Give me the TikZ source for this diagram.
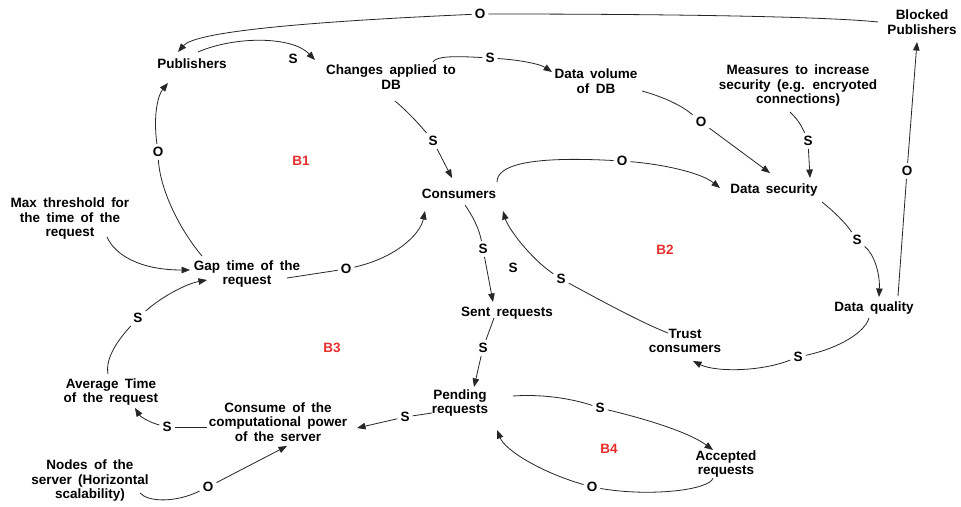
\documentclass[tikz,border=0pt]{standalone}
\usepackage{fontspec}
\setmainfont{Liberation Sans}[WordSpace=1.7]
\usetikzlibrary{arrows.meta}
\definecolor{loopred}{RGB}{232,45,45}
\newcommand{\cldfont}{\fontsize{13.5}{14.5}\selectfont\bfseries}
\tikzset{
  var/.style={font=\cldfont, align=center, inner sep=0pt, text=black},
  pol/.style={font=\cldfont, inner sep=3pt, text=black},
  loopname/.style={font=\cldfont, text=loopred, inner sep=0pt},
  link/.style={draw=black!85, line width=0.8pt},
  arr/.style={link, -{Triangle[length=8.5pt,width=6.5pt]}},
}
\begin{document}
\begin{tikzpicture}[x=1pt,y=-1pt]
\useasboundingbox (0,0) rectangle (961,506);
\fill[white] (0,0) rectangle (961,506);

% variables
\node[var] (bp) at (922,22) {Blocked\\Publishers};
\node[var] (pub) at (192,64) {Publishers};
\node[var] (cad) at (391,77) {Changes applied to\\DB};
\node[var] (dvd) at (596,81) {Data volume\\of DB};
\node[var] (meas) at (798,86) {Measures to increase\\security (e.g. encryoted\\connections)};
\node[var] (cons) at (459,194) {Consumers};
\node[var] (dsec) at (774,190) {Data security};
\node[var] (dq) at (874,308) {Data quality};
\node[var] (trust) at (685,341) {Trust\\consumers};
\node[var] (sent) at (507,313) {Sent requests};
\node[var] (pend) at (460,403) {Pending\\requests};
\node[var] (acc) at (726,464) {Accepted\\requests};
\node[var] (ccp) at (278,422) {Consume of the\\computational power\\of the server};
\node[var] (avg) at (111,392) {Average Time\\of the request};
\node[var] (nodes) at (90,481) {Nodes of the\\server (Horizontal\\scalability)};
\node[var] (gap) at (247,274) {Gap time of the\\request};
\node[var] (mt) at (70,219) {Max threshold for\\the time of the\\request};

% loop names
\node[loopname] (b1) at (301,161) {B1};
\node[loopname] (b2) at (665,250) {B2};
\node[loopname] (b3) at (332,348) {B3};
\node[loopname] (b4) at (609,449) {B4};

% polarity marks
\node[pol] (o1) at (480,14) {O};
\node[pol] (s2) at (293,59) {S};
\node[pol] (s3) at (490,58) {S};
\node[pol] (s4) at (433,141) {S};
\node[pol] (o5) at (701,122) {O};
\node[pol] (s6) at (808,141) {S};
\node[pol] (o7) at (622,161) {O};
\node[pol] (s8) at (857,240) {S};
\node[pol] (o9) at (907,171) {O};
\node[pol] (s10) at (798,357) {S};
\node[pol] (s11) at (561,279) {S};
\node[pol] (sx) at (513,268) {S};
\node[pol] (s12) at (483,249) {S};
\node[pol] (s13) at (483,348) {S};
\node[pol] (s14) at (405,417) {S};
\node[pol] (s15) at (167,427) {S};
\node[pol] (s16) at (138,318) {S};
\node[pol] (o18) at (158,152) {O};
\node[pol] (o19) at (346,269) {O};
\node[pol] (o20) at (208,487) {O};
\node[pol] (s21) at (600,408) {S};
\node[pol] (o22) at (592,487) {O};

% Blocked Publishers -> Publishers
\draw[link] ([shift={(-44,0)}]bp.center) .. controls (820,16) and (650,14) .. (o1);
\draw[arr] (o1) .. controls (300,22) and (195,32) .. ([shift={(-14,-12)}]pub.center);
% Publishers -> Changes applied to DB
\draw[arr] ([shift={(6,-12)}]pub.center) .. controls (235,36) and (292,36) .. ([shift={(-76,-17)}]cad.center);
% Changes applied to DB -> Data volume of DB
\draw[link] ([shift={(42,-15)}]cad.center) .. controls (436,56) and (455,56) .. (s3);
\draw[arr] (s3) .. controls (520,60) and (540,64) .. ([shift={(-44,-9)}]dvd.center);
% Changes applied to DB -> Consumers
\draw[link] ([shift={(4,24)}]cad.center) .. controls (408,112) and (420,125) .. (s4);
\draw[arr] (s4) -- ([shift={(-7,-16)}]cons.center);
% Data volume of DB -> Data security
\draw[link] ([shift={(46,10)}]dvd.center) .. controls (660,96) and (680,104) .. (o5);
\draw[arr] (o5) -- ([shift={(-4,-17)}]dsec.center);
% Measures -> Data security
\draw[link] ([shift={(-8,26)}]meas.center) .. controls (795,117) and (800,122) .. (s6);
\draw[arr] (s6) -- ([shift={(36,-12)}]dsec.center);
% Consumers -> Data security
\draw[link] ([shift={(38,-12)}]cons.center) .. controls (497,165) and (530,156) .. (o7);
\draw[arr] (o7) .. controls (660,164) and (700,172) .. ([shift={(-54,-2)}]dsec.center);
% Data security -> Data quality
\draw[link] ([shift={(48,12)}]dsec.center) .. controls (832,210) and (845,222) .. (s8);
\draw[arr] (s8) .. controls (875,255) and (880,275) .. ([shift={(5,-11)}]dq.center);
% Data quality -> Blocked Publishers
\draw[link] ([shift={(24,-12)}]dq.center) -- (o9);
\draw[arr] (o9) -- ([shift={(-5,20)}]bp.center);
% Data quality -> Trust consumers
\draw[link] ([shift={(-5,10)}]dq.center) .. controls (865,332) and (840,348) .. (s10);
\draw[arr] (s10) .. controls (760,372) and (715,372) .. ([shift={(8,20)}]trust.center);
% Trust consumers -> Consumers
\draw[link] ([shift={(-17,-8)}]trust.center) .. controls (640,322) and (600,300) .. (s11);
\draw[arr] (s11) .. controls (530,258) and (508,228) .. ([shift={(44,17)}]cons.center);
% Consumers -> Sent requests
\draw[link] ([shift={(6,11)}]cons.center) .. controls (472,215) and (479,228) .. (s12);
\draw[arr] (s12) -- ([shift={(-14,-11)}]sent.center);
% Sent requests -> Pending requests
\draw[link] ([shift={(-13,5)}]sent.center) -- (s13);
\draw[arr] (s13) -- ([shift={(14,-16)}]pend.center);
% Pending requests -> Consume of the computational power
\draw[link] ([shift={(-28,10)}]pend.center) -- (s14);
\draw[arr] (s14) -- ([shift={(79,6)}]ccp.center);
% Consume of the computational power -> Average Time
\draw[link] ([shift={(-71,5)}]ccp.center) -- (s15);
\draw[arr] (s15) .. controls (148,422) and (140,416) .. ([shift={(24,16)}]avg.center);
% Average Time -> Gap time
\draw[link] ([shift={(-3,-18)}]avg.center) .. controls (105,358) and (118,340) .. (s16);
\draw[arr] (s16) .. controls (160,298) and (185,284) .. ([shift={(-40,6)}]gap.center);
% Max threshold -> Gap time
\draw[arr] ([shift={(37,18)}]mt.center) .. controls (115,255) and (140,270) .. ([shift={(-57,-4)}]gap.center);
% Gap time -> Publishers
\draw[link] ([shift={(-45,-18)}]gap.center) .. controls (180,230) and (160,190) .. (o18);
\draw[arr] (o18) .. controls (153,115) and (158,95) .. ([shift={(-24,19)}]pub.center);
% Gap time -> Consumers
\draw[link] ([shift={(40,4)}]gap.center) -- (o19);
\draw[arr] (o19) .. controls (395,258) and (420,235) .. ([shift={(-34,17)}]cons.center);
% Nodes of the server -> Consume of the computational power
\draw[link] ([shift={(50,12)}]nodes.center) .. controls (148,502) and (175,503) .. (o20);
\draw[arr] (o20) -- ([shift={(9,24)}]ccp.center);
% Pending requests -> Accepted requests
\draw[link] ([shift={(53,-7)}]pend.center) .. controls (540,394) and (570,398) .. (s21);
\draw[arr] (s21) .. controls (650,420) and (690,433) .. ([shift={(-13,-14)}]acc.center);
% Accepted requests -> Pending requests
\draw[link] ([shift={(-13,14)}]acc.center) .. controls (710,490) and (650,497) .. (o22);
\draw[arr] (o22) .. controls (540,472) and (505,450) .. ([shift={(37,27)}]pend.center);
\end{tikzpicture}
\end{document}
